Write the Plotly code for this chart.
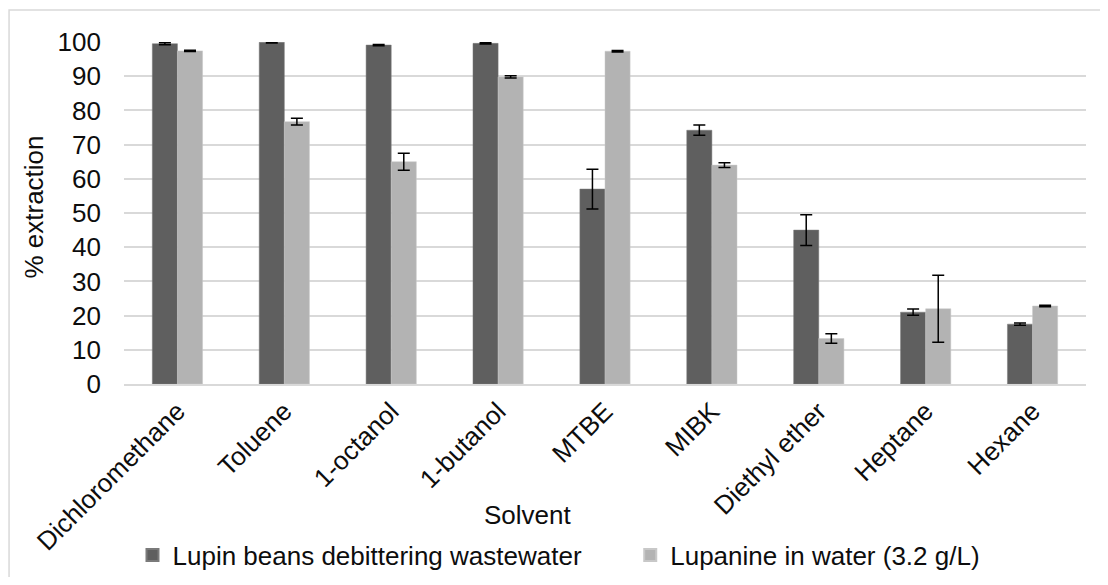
import plotly.graph_objects as go

solvents = ["Dichloromethane", "Toluene", "1-octanol", "1-butanol", "MTBE",
            "MIBK", "Diethyl ether", "Heptane", "Hexane"]
wastewater = [99.5, 99.9, 99.1, 99.6, 57.0, 74.2, 45.0, 21.0, 17.5]
wastewater_err = [0.3, 0.2, 0.2, 0.2, 5.8, 1.5, 4.5, 0.9, 0.3]
lupanine = [97.4, 76.7, 65.0, 89.8, 97.3, 64.0, 13.3, 22.0, 22.8]
lupanine_err = [0.2, 1.0, 2.5, 0.3, 0.2, 0.7, 1.4, 9.8, 0.2]

OFF = 8  # body margin of the html page
W, H = 1108 - 2 * OFF, 585 - 2 * OFF
L, R, T, B = 123.5 - OFF, 1108 - 1086 - OFF, 42 - OFF, 585 - 384 - OFF
pw, ph = W - L - R, H - T - B
font = "Liberation Sans, Arial, sans-serif"
tc = "#0d0d0d"
FS = 26


def px_x(page_x):
    return (page_x - OFF - L) / pw


def px_y(page_y):
    return (H - B - (page_y - OFF)) / ph


fig = go.Figure()
fig.add_trace(go.Bar(
    x=solvents, y=wastewater, name="Lupin beans debittering wastewater",
    marker=dict(color="#5f5f5f", line=dict(color="#7a7a7a", width=0.5)),
    error_y=dict(type="data", array=wastewater_err, color="black", thickness=1.5, width=6),
    legend="legend",
))
fig.add_trace(go.Bar(
    x=solvents, y=lupanine, name="Lupanine in water (3.2 g/L)",
    marker=dict(color="#b3b3b3", line=dict(color="#c8c8c8", width=0.5)),
    error_y=dict(type="data", array=lupanine_err, color="black", thickness=1.5, width=6),
    legend="legend2",
))

leg_common = dict(orientation="h", xanchor="left", yanchor="middle",
                  font=dict(size=FS, color=tc), itemwidth=30, itemsizing="constant",
                  bgcolor="rgba(0,0,0,0)")

fig.update_layout(
    width=W, height=H,
    margin=dict(l=L, r=R, t=T, b=B, autoexpand=False),
    paper_bgcolor="white", plot_bgcolor="white",
    barmode="group", bargap=0.53, bargroupgap=0,
    font=dict(family=font, size=FS, color=tc),
    showlegend=True,
    legend=dict(x=px_x(132), y=px_y(555), **leg_common),
    legend2=dict(x=px_x(630), y=px_y(555), **leg_common),
    xaxis=dict(tickangle=-45, tickfont=dict(size=FS, color=tc), showgrid=False,
               showline=True, linecolor="#d9d9d9", linewidth=1.5, ticks=""),
    yaxis=dict(range=[0, 100], dtick=10, tickfont=dict(size=FS, color=tc),
               showgrid=True, gridcolor="#d9d9d9", gridwidth=1.5, zeroline=False,
               showline=False, ticks="", ticklabelstandoff=22),
    shapes=[dict(type="rect", xref="paper", yref="paper",
                 x0=px_x(8.5), x1=px_x(1140), y0=px_y(620), y1=px_y(10),
                 line=dict(color="#d9d9d9", width=1.5), fillcolor="rgba(0,0,0,0)", layer="below")],
    annotations=[
        dict(text="Solvent", xref="paper", yref="paper", x=px_x(527), y=px_y(515),
             xanchor="center", yanchor="middle", showarrow=False, font=dict(size=FS, color=tc)),
        dict(text="% extraction", xref="paper", yref="paper", x=px_x(33), y=px_y(207),
             xanchor="center", yanchor="middle", showarrow=False, textangle=-90,
             font=dict(size=FS, color=tc)),
    ],
)

fig.write_html("out.html")
